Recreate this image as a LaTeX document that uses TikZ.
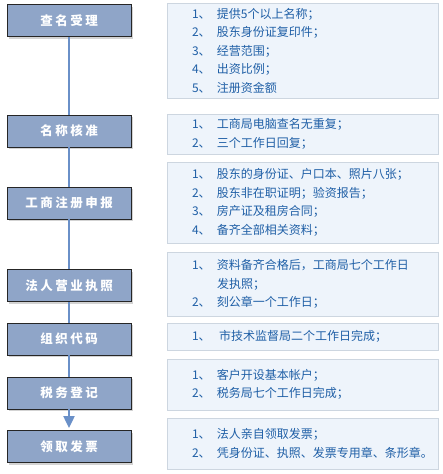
\documentclass[tikz,border=0pt]{standalone}
\usepackage{fontspec}
\setmainfont{Noto Sans CJK SC}
\newfontfamily\stagefont[LetterSpace=20]{Noto Sans CJK SC}
\usetikzlibrary{arrows.meta,shadows}
\definecolor{stagefill}{HTML}{8FA5C8}
\definecolor{notefill}{HTML}{EEF4FB}
\definecolor{noteline}{HTML}{CDD6E0}
\definecolor{notetext}{HTML}{1F5FA6}
\definecolor{flowline}{HTML}{6A90C8}
\newcommand\nitem[1]{\hspace*{13pt}\makebox[25pt][l]{#1、}}
\newcommand\nbreak{\hspace*{38pt}}
\begin{document}
\begin{tikzpicture}[x=1pt, y=-1pt,
  stage/.style = {shape=rectangle, draw=black!85, fill=stagefill, line width=0.8pt,
    minimum width=124pt, minimum height=32pt, inner sep=0pt,
    font=\stagefont\bfseries\fontsize{12.5}{14}\selectfont, text=white,
    drop shadow={shadow xshift=2pt, shadow yshift=-2pt, opacity=0.35}},
  note/.style = {shape=rectangle, draw=noteline, fill=notefill, line width=0.8pt,
    minimum width=271pt, text width=247pt, inner xsep=12pt, inner ysep=0pt, align=left,
    font=\fontsize{12}{18.5}\selectfont, text=notetext},
  link/.style = {draw=flowline, line width=2pt}]

  \useasboundingbox (0,0) rectangle (443,474);

  % steps
  \node[stage] (s1) at (69,20.5) {查名受理};
  \node[stage] (s2) at (69,131)  {名称核准};
  \node[stage] (s3) at (69,203)  {工商注册申报};
  \node[stage] (s4) at (69,285.5) {法人营业执照};
  \node[stage] (s5) at (69,339)  {组织代码};
  \node[stage] (s6) at (69,393)  {税务登记};
  \node[stage] (s7) at (69,446.5) {领取发票};

  % notes
  \node[note, minimum height=95pt] (n1) at (302.5,50.5)
    {\nitem{1}提供5个以上名称；\\ \nitem{2}股东身份证复印件；\\ \nitem{3}经营范围；\\
     \nitem{4}出资比例；\\ \nitem{5}注册资金额};
  \node[note, minimum height=40pt] (n2) at (302.5,134)
    {\nitem{1}工商局电脑查名无重复；\\ \nitem{2}三个工作日回复；};
  \node[note, minimum height=81pt] (n3) at (302.5,202.5)
    {\nitem{1}股东的身份证、户口本、照片八张；\\ \nitem{2}股东非在职证明；验资报告；\\
     \nitem{3}房产证及租房合同；\\ \nitem{4}备齐全部相关资料；};
  \node[note, minimum height=64pt] (n4) at (302.5,284)
    {\nitem{1}资料备齐合格后，工商局七个工作日\\ \nbreak 发执照；\\ \nitem{2}刻公章一个工作日；};
  \node[note, minimum height=27pt] (n5) at (302.5,336.5)
    {\nitem{1}\,市技术监督局二个工作日完成；};
  \node[note, minimum height=51pt] (n6) at (302.5,384.5)
    {\nitem{1}客户开设基本帐户；\\ \nitem{2}税务局七个工作日完成；};
  \node[note, minimum height=51pt] (n7) at (302.5,443.5)
    {\nitem{1}法人亲自领取发票；\\ \nitem{2}凭身份证、执照、发票专用章、条形章。};

  \draw[link] (s1) -- (s2);
  \draw[link] (s2) -- (s3);
  \draw[link] (s3) -- (s4);
  \draw[link] (s4) -- (s5);
  \draw[link] (s5) -- (s6);
  \draw[link, -{Triangle[length=12pt,width=11pt]}, shorten >=2pt] (s6) -- (s7);

\end{tikzpicture}
\end{document}
